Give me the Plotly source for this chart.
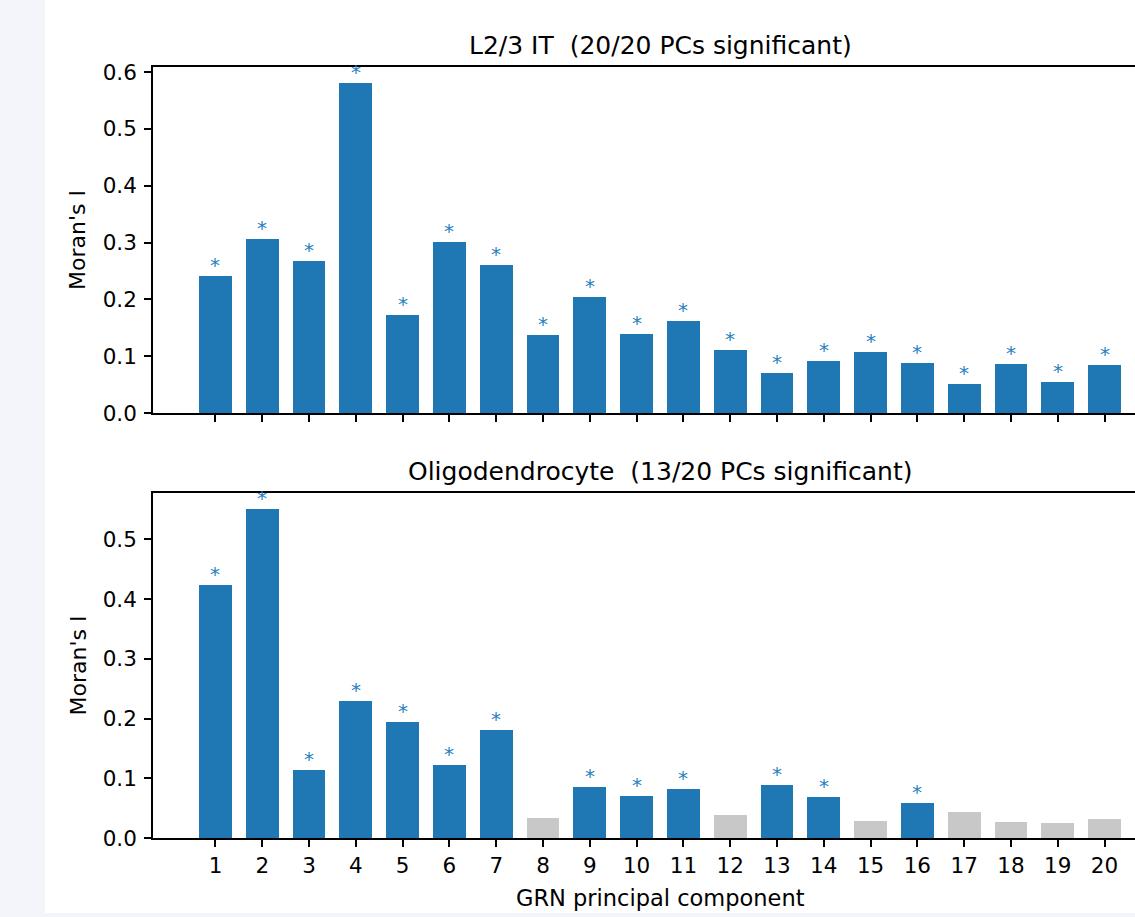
import plotly.graph_objects as go

# ---------------- data ----------------
pcs = list(range(1, 21))
l23_title = "L2/3 IT  (20/20 PCs significant)"
l23_vals = [0.241, 0.307, 0.268, 0.580, 0.172, 0.301, 0.261, 0.137, 0.204, 0.139,
            0.162, 0.111, 0.070, 0.092, 0.107, 0.088, 0.051, 0.086, 0.054, 0.085]
l23_sig = [True] * 20

oligo_title = "Oligodendrocyte  (13/20 PCs significant)"
oligo_vals = [0.423, 0.550, 0.114, 0.230, 0.195, 0.122, 0.181, 0.034, 0.085, 0.070,
              0.082, 0.039, 0.089, 0.069, 0.029, 0.058, 0.044, 0.027, 0.025, 0.032]
oligo_sig = [True, True, True, True, True, True, True, False, True, True,
             True, False, True, True, False, True, False, False, False, False]

x_label = "GRN principal component"
y_label = "Moran's I"

# ---------------- style ----------------
W, H = 1135, 917
BLUE = "#1f77b4"
STAR = "#2a7fc0"
GRAY = "#c8c8c8"
BG = "#f4f5fa"
FONT = "DejaVu Sans"
BAR_W = 0.7

AX_L, AX_R_FULL = 153, 1167          # full matplotlib axes extent (right side cropped)
TOP_Y0, TOP_Y1 = 67, 413
BOT_Y0, BOT_Y1 = 493, 838


def fx(p):
    return p / W


def fy(p):
    return 1 - p / H


# x range (matplotlib-like margins), cropped at the page edge
data_lo = min(pcs) - BAR_W / 2
data_hi = max(pcs) + BAR_W / 2
pad = 0.05 * (data_hi - data_lo)
x_lo = data_lo - pad
x_full_hi = data_hi + pad
x_hi = x_lo + (x_full_hi - x_lo) * (W - AX_L) / (AX_R_FULL - AX_L)

fig = go.Figure()

panels = [
    (l23_vals, l23_sig, "x", "y", l23_title, TOP_Y0, TOP_Y1),
    (oligo_vals, oligo_sig, "x2", "y2", oligo_title, BOT_Y0, BOT_Y1),
]

annotations = []
for vals, sig, xa, ya, title, y0, y1 in panels:
    fig.add_trace(go.Bar(
        x=pcs, y=vals, width=BAR_W,
        marker=dict(color=[BLUE if s else GRAY for s in sig], line=dict(width=0)),
        xaxis=xa, yaxis=ya, hoverinfo="x+y",
    ))
    for p, v, s in zip(pcs, vals, sig):
        if s:
            annotations.append(dict(
                x=p, y=v, xref=xa, yref=ya, text="*", showarrow=False,
                yanchor="middle", yshift=11,
                font=dict(family=FONT, size=20, color=STAR),
            ))
    # panel title
    annotations.append(dict(
        x=fx((AX_L + AX_R_FULL) / 2), y=fy(y0 - 22), xref="paper", yref="paper",
        text=title, showarrow=False, xanchor="center", yanchor="middle",
        font=dict(family=FONT, size=25, color="black"),
    ))
    # y label
    annotations.append(dict(
        x=fx(78), y=fy((y0 + y1) / 2), xref="paper", yref="paper",
        text=y_label, showarrow=False, textangle=-90,
        xanchor="center", yanchor="middle",
        font=dict(family=FONT, size=22, color="black"),
    ))

annotations.append(dict(
    x=fx((AX_L + AX_R_FULL) / 2), y=fy(898), xref="paper", yref="paper",
    text=x_label, showarrow=False, xanchor="center", yanchor="middle",
    font=dict(family=FONT, size=22.5, color="black"),
))

axis_common = dict(
    showgrid=False, zeroline=False, showline=True, linecolor="black", linewidth=1.6,
    ticks="outside", ticklen=7, tickwidth=1.6, tickcolor="black",
    tickfont=dict(family=FONT, size=21.5, color="black"), automargin=False,
)

xaxis_common = dict(axis_common, range=[x_lo, x_hi], tickvals=pcs,
                    ticktext=[str(p) for p in pcs], mirror=True,
                    domain=[fx(AX_L), 1.0])

y_top_max = max(l23_vals) * 1.05
y_bot_max = max(oligo_vals) * 1.05

fig.update_layout(
    width=W, height=H, autosize=False,
    margin=dict(l=0, r=0, t=0, b=0, pad=0),
    paper_bgcolor=BG, plot_bgcolor="white",
    showlegend=False, bargap=0,
    font=dict(family=FONT, color="black"),
    xaxis=dict(xaxis_common, anchor="y", showticklabels=False),
    yaxis=dict(axis_common, anchor="x", range=[0, y_top_max], dtick=0.1,
               tickformat=".1f", ticklabelstandoff=3,
               domain=[fy(TOP_Y1), fy(TOP_Y0)]),
    xaxis2=dict(xaxis_common, anchor="y2", showticklabels=True),
    yaxis2=dict(axis_common, anchor="x2", range=[0, y_bot_max], dtick=0.1,
                tickformat=".1f", ticklabelstandoff=3,
                domain=[fy(BOT_Y1), fy(BOT_Y0)]),
    annotations=annotations,
    shapes=[dict(type="rect", xref="paper", yref="paper",
                 x0=fx(45), x1=1.0, y0=fy(913), y1=1.0,
                 fillcolor="white", line=dict(width=0), layer="below")],
)

page_css = ("document.body.style.margin='0';document.body.style.padding='0';"
            "document.body.style.overflow='hidden';"
            "document.body.style.background='" + BG + "';")

fig.write_html("out.html", post_script=page_css,
               config={"displayModeBar": False})
